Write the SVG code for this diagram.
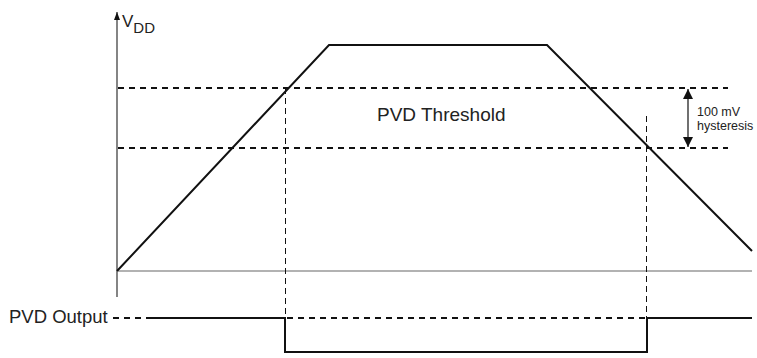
<svg xmlns="http://www.w3.org/2000/svg" width="757" height="358" viewBox="0 0 757 358">
<style>
text{font-family:"Liberation Sans",Arial,sans-serif;fill:#222}
.solid{fill:none;stroke:#111;stroke-width:2}
.dash{fill:none;stroke:#111;stroke-width:2;stroke-dasharray:6 5}
.vdash{fill:none;stroke:#111;stroke-width:1;stroke-dasharray:6 4}
</style>
<defs>
<marker id="ah" markerWidth="10" markerHeight="10" refX="10" refY="5" orient="auto-start-reverse" markerUnits="userSpaceOnUse" viewBox="0 0 10 10">
<path d="M0,0 L10,5 L0,10 Z" fill="#111"/>
</marker>
<marker id="ahs" markerWidth="8" markerHeight="6" refX="8" refY="3" orient="auto" markerUnits="userSpaceOnUse" viewBox="0 0 8 6">
<path d="M0,0 L8,3 L0,6 Z" fill="#111"/>
</marker>
</defs>
<g id="axes">
<line x1="117" y1="297" x2="117" y2="12" stroke="#333" stroke-width="1.2" marker-end="url(#ahs)"/>
<line x1="117" y1="271" x2="752" y2="271" stroke="#999" stroke-width="1.5"/>
</g>
<g id="vdd-label"><text x="122" y="27" font-size="17">V<tspan font-size="15" dy="6">DD</tspan></text></g>
<g id="connectors">
<polyline class="solid" points="117,271 329,45 547,45 752,251"/>
<line class="dash" x1="118" y1="88" x2="728" y2="88"/>
<line class="dash" x1="118" y1="148" x2="728" y2="148"/>
<line class="vdash" x1="285.5" y1="88" x2="285.5" y2="322"/>
<line class="vdash" x1="646.5" y1="116" x2="646.5" y2="322"/>
<line x1="688" y1="89" x2="688" y2="147" stroke="#111" stroke-width="1.2" marker-start="url(#ah)" marker-end="url(#ah)"/>
<line class="dash" x1="113" y1="318" x2="144" y2="318" stroke-dasharray="4 5"/>
<polyline class="solid" points="146,318 285,318 285,352 647,352 647,318 752,318"/>
<line class="dash" x1="287" y1="318" x2="645" y2="318"/>
</g>
<g id="threshold-label"><text x="377" y="121" font-size="19">PVD Threshold</text></g>
<g id="hysteresis-label">
<text x="697" y="116" font-size="12.5">100 mV</text>
<text x="697" y="130" font-size="12.5">hysteresis</text>
</g>
<g id="output-label"><text x="9" y="323" font-size="18.5">PVD Output</text></g>
</svg>
